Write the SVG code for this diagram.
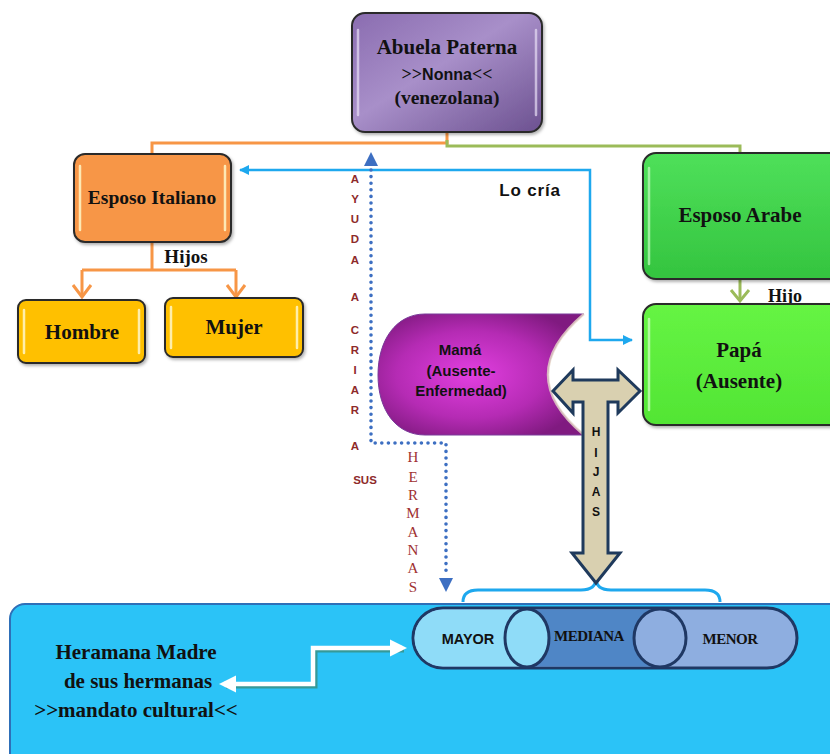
<svg xmlns="http://www.w3.org/2000/svg" width="830" height="754" viewBox="0 0 830 754">
<defs>
<style>
.serif{font-family:"Liberation Serif","Times New Roman",serif;font-weight:bold;fill:#111;text-anchor:middle}
.sans{font-family:"Liberation Sans",Arial,sans-serif;font-weight:bold;fill:#111;text-anchor:middle}
.vert{font-family:"Liberation Sans",Arial,sans-serif;font-weight:bold;fill:#8e2a2a;font-size:11.5px;text-anchor:middle}
.vserif{font-family:"Liberation Serif","Times New Roman",serif;fill:#a03232;font-size:15px;text-anchor:middle}
.box{stroke:#2b2b2b;stroke-width:2}
.gloss{stroke:#fff7c8;stroke-width:2.5;stroke-linecap:round;opacity:0.85}
.orange{fill:none;stroke:#f79646;stroke-width:3}
.blue{fill:none;stroke:#1ea8ee;stroke-width:2.5}
.pill{stroke:#1f3864;stroke-width:3}
</style>
<linearGradient id="gAbuela" x1="0" y1="0" x2="1" y2="1">
<stop offset="0" stop-color="#8a6cb0"/><stop offset="0.45" stop-color="#a88fc9"/><stop offset="1" stop-color="#6c5190"/>
</linearGradient>
<linearGradient id="gArabe" x1="0" y1="0" x2="0" y2="1">
<stop offset="0" stop-color="#4fe05a"/><stop offset="1" stop-color="#34c43f"/>
</linearGradient>
<linearGradient id="gPapa" x1="0" y1="0" x2="0" y2="1">
<stop offset="0" stop-color="#66f444"/><stop offset="1" stop-color="#52e534"/>
</linearGradient>
<radialGradient id="gMama" cx="0.45" cy="0.5" r="0.6">
<stop offset="0" stop-color="#e23fe0"/><stop offset="0.6" stop-color="#b52bb4"/><stop offset="1" stop-color="#801a80"/>
</radialGradient>
<filter id="sh" x="-10%" y="-10%" width="130%" height="130%">
<feDropShadow dx="1.5" dy="2" stdDeviation="1.5" flood-color="#000" flood-opacity="0.3"/>
</filter>
<marker id="aBlue" viewBox="0 0 10 10" refX="9" refY="5" markerWidth="4" markerHeight="4" orient="auto-start-reverse">
<path d="M0,0 L10,5 L0,10 Z" fill="#1ea8ee"/>
</marker>
<marker id="aWhite" viewBox="0 0 10 10" refX="7" refY="5" markerWidth="3.8" markerHeight="3.8" orient="auto-start-reverse">
<path d="M0,0 L10,5 L0,10 Z" fill="#fff"/>
</marker>
</defs>
<rect width="830" height="754" fill="#fff"/>

<g id="connectors">
<path class="orange" d="M447,132 V143 H152 V155"/>
<path d="M447,140 V146 H740 V153" fill="none" stroke="#9bbb59" stroke-width="3"/>
<path class="orange" d="M152,242 V270 M82,270 H236 M82,270 V296 M236,270 V296"/>
<path class="orange" d="M73,285 L82,297 L91,285 M227,285 L236,297 L245,285"/>
<path d="M740,279 V300" fill="none" stroke="#9bbb59" stroke-width="3"/>
<path d="M731,290 L740,301 L749,290" fill="none" stroke="#9bbb59" stroke-width="3"/>
<path class="blue" d="M632,340 H590 V170 H240" marker-start="url(#aBlue)" marker-end="url(#aBlue)"/>
<path d="M371,170 V443 H446 V574" fill="none" stroke="#3d6fc2" stroke-width="3.6" stroke-linecap="round" stroke-dasharray="0 6.6"/>
<polygon points="371,152 364,166 378,166" fill="#3d6fc2"/>
<polygon points="446,592 439,578 453,578" fill="#3d6fc2"/>
<path d="M463,602 Q463,590 478,590 L581,590 Q596,590 596,578 Q596,590 611,590 L705,590 Q720,590 720,602" fill="none" stroke="#1ea8ee" stroke-width="3"/>
</g>

<g id="abuela">
<rect class="box" x="352" y="13" width="190" height="119" rx="13" fill="url(#gAbuela)" filter="url(#sh)"/>
<line x1="358" y1="30" x2="358" y2="115" stroke="#e8def5" stroke-width="2.5" stroke-linecap="round" opacity="0.7"/>
<line x1="536" y1="30" x2="536" y2="115" stroke="#e8def5" stroke-width="2.5" stroke-linecap="round" opacity="0.7"/>
<text class="serif" x="447" y="54" font-size="21">Abuela Paterna</text>
<text class="serif" x="447" y="80" font-size="18">&gt;&gt;<tspan font-family="'Liberation Sans',Arial,sans-serif" font-size="16">Nonna</tspan>&lt;&lt;</text>
<text class="serif" x="447" y="104" font-size="19.5">(venezolana)</text>
</g>

<g id="esposo-italiano">
<rect class="box" x="74" y="154" width="157" height="88" rx="11" fill="#f79646" filter="url(#sh)"/>
<line class="gloss" x1="80" y1="166" x2="80" y2="230"/>
<line class="gloss" x1="225" y1="166" x2="225" y2="230"/>
<text class="serif" x="152" y="204" font-size="19.5">Esposo Italiano</text>
</g>
<text class="serif" x="186" y="263" font-size="19">Hijos</text>

<g id="hombre">
<rect class="box" x="18" y="300" width="127" height="63" rx="8" fill="#ffc000" filter="url(#sh)"/>
<line class="gloss" x1="24" y1="310" x2="24" y2="353"/>
<line class="gloss" x1="139" y1="310" x2="139" y2="353"/>
<text class="serif" x="82" y="339" font-size="21">Hombre</text>
</g>

<g id="mujer">
<rect class="box" x="165" y="298" width="138" height="59" rx="8" fill="#ffc000" filter="url(#sh)"/>
<line class="gloss" x1="171" y1="307" x2="171" y2="348"/>
<line class="gloss" x1="297" y1="307" x2="297" y2="348"/>
<text class="serif" x="234" y="334" font-size="21">Mujer</text>
</g>

<g id="esposo-arabe">
<rect class="box" x="643" y="153" width="200" height="126" rx="13" fill="url(#gArabe)" filter="url(#sh)"/>
<line x1="649" y1="168" x2="649" y2="264" stroke="#b7f5b5" stroke-width="2.5" stroke-linecap="round" opacity="0.8"/>
<text class="serif" x="740" y="222" font-size="21">Esposo Arabe</text>
</g>
<text class="serif" x="785" y="302" font-size="18">Hijo</text>

<g id="papa">
<rect class="box" x="643" y="304" width="200" height="121" rx="13" fill="url(#gPapa)" filter="url(#sh)"/>
<line x1="649" y1="319" x2="649" y2="410" stroke="#c8fbb8" stroke-width="2.5" stroke-linecap="round" opacity="0.8"/>
<text class="serif" x="739" y="357" font-size="21">Papá</text>
<text class="serif" x="739" y="388" font-size="21">(Ausente)</text>
</g>

<text class="sans" x="530" y="196" font-size="17" letter-spacing="0.8">Lo cría</text>

<g id="mama">
<path d="M425,314 L584,314 Q512,375 584,435 L425,435 C396,435 378,410 378,375 C378,340 396,314 425,314 Z" fill="url(#gMama)" stroke="#7a3a9a" stroke-width="1"/>
<path d="M584,314 Q512,375 584,435" fill="none" stroke="#e8d8c8" stroke-width="2.5" opacity="0.8"/>
<text class="sans" x="460" y="355" font-size="15">Mamá</text>
<text class="sans" x="461" y="376" font-size="15">(Ausente-</text>
<text class="sans" x="461" y="396" font-size="15">Enfermedad)</text>
</g>

<g id="ayuda-label">
<text class="vert" x="355" y="183">A</text>
<text class="vert" x="355" y="203">Y</text>
<text class="vert" x="355" y="223">U</text>
<text class="vert" x="355" y="243">D</text>
<text class="vert" x="355" y="264">A</text>
<text class="vert" x="355" y="301">A</text>
<text class="vert" x="355" y="334">C</text>
<text class="vert" x="355" y="354">R</text>
<text class="vert" x="355" y="374">I</text>
<text class="vert" x="355" y="394">A</text>
<text class="vert" x="355" y="414">R</text>
<text class="vert" x="355" y="450">A</text>
<text class="vert" x="365" y="484">SUS</text>
</g>

<g id="hermanas-label">
<text class="vserif" x="413" y="462">H</text>
<text class="vserif" x="413" y="482">E</text>
<text class="vserif" x="413" y="500">R</text>
<text class="vserif" x="413" y="518">M</text>
<text class="vserif" x="413" y="537">A</text>
<text class="vserif" x="413" y="555">N</text>
<text class="vserif" x="413" y="573">A</text>
<text class="vserif" x="413" y="592">S</text>
</g>

<g id="hijas-arrow">
<polygon points="553,391 573,370 573,380 618,380 618,370 640,391 618,413 618,402 608,402 608,553 620,553 596,583 572,553 583,553 583,402 573,402 573,413" fill="#d9d0b0" stroke="#1f3a5c" stroke-width="3" stroke-linejoin="miter"/>
<text class="sans" x="596" y="436" font-size="12">H</text>
<text class="sans" x="596" y="457" font-size="12">I</text>
<text class="sans" x="596" y="476" font-size="12">J</text>
<text class="sans" x="596" y="496" font-size="12">A</text>
<text class="sans" x="596" y="516" font-size="12">S</text>
</g>

<g id="hermanas-panel">
<rect x="10" y="604" width="840" height="170" rx="15" fill="#2bc3f7" stroke="#2e6fb8" stroke-width="2"/>
<text class="serif" x="136" y="659" font-size="21">Heramana Madre</text>
<text class="serif" x="138" y="688" font-size="21">de sus hermanas</text>
<text class="serif" x="136" y="717" font-size="21">&gt;&gt;mandato cultural&lt;&lt;</text>
</g>

<g id="white-arrow">
<path d="M226,686 H315 V650 H404" fill="none" stroke="#3a8f7f" stroke-width="5" opacity="0.8"/>
<path d="M224,684 H313 V648 H402" fill="none" stroke="#fff" stroke-width="4.5" marker-start="url(#aWhite)" marker-end="url(#aWhite)"/>
</g>

<g id="hijas-cylinders">
<rect class="pill" x="413" y="608" width="384" height="60" rx="30" fill="#8eaee0"/>
<rect x="527" y="609.5" width="133" height="57" fill="#4f86c6"/>
<path d="M527,609.5 H443 A28.5,28.5 0 0 0 443,666.5 H527 Z" fill="#8fdcf8"/>
<ellipse class="pill" cx="660" cy="638" rx="26" ry="29" fill="#8eaee0"/>
<ellipse class="pill" cx="527" cy="638" rx="22" ry="29" fill="#8fdcf8"/>
<text class="sans" x="468" y="644" font-size="14.5">MAYOR</text>
<text class="serif" x="589" y="641" font-size="15" fill="#1a1a1a" letter-spacing="-0.5">MEDIANA</text>
<text class="serif" x="730" y="644" font-size="15" letter-spacing="-0.5" font-weight="normal" fill="#222">MENOR</text>
</g>
</svg>
